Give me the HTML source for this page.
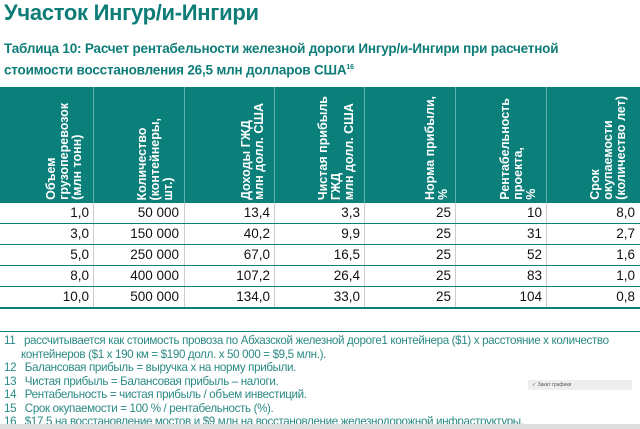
<!DOCTYPE html>
<html><head><meta charset="utf-8"><style>
body{margin:0;width:640px;height:429px;background:#fff;font-family:"Liberation Sans",sans-serif;position:relative;overflow:hidden;color:#111}
.t{position:absolute;left:4px;top:0px;font-size:22px;font-weight:bold;color:#0e7d78;letter-spacing:-0.3px}
.c{position:absolute;left:4px;top:39px;font-size:13.5px;font-weight:bold;color:#0e7d78;line-height:19px;letter-spacing:-0.2px}
.c sup{font-size:7px}
.hd{position:absolute;left:0;top:87px;width:640px;height:116px;background:#0b7f7a}
.col{position:absolute;top:0;height:116px;border-left:1px solid #5fb0ac}
.h{position:absolute;bottom:3px;writing-mode:vertical-rl;transform:rotate(180deg);color:#fff;font-weight:bold;font-size:12.5px;line-height:13px;white-space:nowrap}
.row{position:absolute;left:0;width:640px;height:21px;border-bottom:1px solid #0b7f7a;font-size:13.5px}
.row span{position:absolute;top:3px;text-align:right}
.v{position:absolute;top:203px;height:105px;border-left:1px solid #ccc}
.fn{position:absolute;left:4px;top:334px;width:640px;font-size:11.6px;color:#2a8a84;line-height:13.5px;letter-spacing:-0.35px}
.fn div{padding-left:17px;text-indent:-17px}
</style></head><body>
<div class="t">Участок Ингур/и-Ингири</div>
<div class="c">Таблица 10: Расчет рентабельности железной дороги Ингур/и-Ингири при расчетной<br>стоимости восстановления 26,5 млн долларов США<sup>16</sup></div>
<div class="hd">
<div class="col" style="left:93px"></div><div class="col" style="left:184px"></div><div class="col" style="left:274px"></div><div class="col" style="left:364px"></div><div class="col" style="left:455px"></div><div class="col" style="left:546px"></div>
<div class="h" style="left:45px">Объем<br>грузоперевозок<br>(млн тонн)</div>
<div class="h" style="left:136px">Количество<br>(контейнеры,<br>шт.)</div>
<div class="h" style="left:240px">Доходы ГЖД<br>млн долл. США</div>
<div class="h" style="left:317px">Чистая прибыль<br>ГЖД<br>млн долл. США</div>
<div class="h" style="left:424px">Норма прибыли,<br>%</div>
<div class="h" style="left:499px">Рентабельность<br>проекта,<br>%</div>
<div class="h" style="left:589px">Срок<br>окупаемости<br>(количество лет)</div>
</div>
<div class="v" style="left:93px"></div><div class="v" style="left:184px"></div><div class="v" style="left:274px"></div><div class="v" style="left:364px"></div><div class="v" style="left:455px"></div><div class="v" style="left:546px"></div>
<div class="row" style="top:202px"><span style="right:551px">1,0</span><span style="right:461px">50 000</span><span style="right:370px">13,4</span><span style="right:280px">3,3</span><span style="right:189px">25</span><span style="right:98px">10</span><span style="right:5px">8,0</span></div>
<div class="row" style="top:223px"><span style="right:551px">3,0</span><span style="right:461px">150 000</span><span style="right:370px">40,2</span><span style="right:280px">9,9</span><span style="right:189px">25</span><span style="right:98px">31</span><span style="right:5px">2,7</span></div>
<div class="row" style="top:244px"><span style="right:551px">5,0</span><span style="right:461px">250 000</span><span style="right:370px">67,0</span><span style="right:280px">16,5</span><span style="right:189px">25</span><span style="right:98px">52</span><span style="right:5px">1,6</span></div>
<div class="row" style="top:265px"><span style="right:551px">8,0</span><span style="right:461px">400 000</span><span style="right:370px">107,2</span><span style="right:280px">26,4</span><span style="right:189px">25</span><span style="right:98px">83</span><span style="right:5px">1,0</span></div>
<div class="row" style="top:286px;border-bottom:2px solid #0b7f7a"><span style="right:551px">10,0</span><span style="right:461px">500 000</span><span style="right:370px">134,0</span><span style="right:280px">33,0</span><span style="right:189px">25</span><span style="right:98px">104</span><span style="right:5px">0,8</span></div>
<div style="position:absolute;left:0;top:331px;width:640px;border-top:1px solid #0b7f7a"></div>
<div class="fn">
<div>11&nbsp;&nbsp;&nbsp;рассчитывается как стоимость провоза по Абхазской железной дороге1 контейнера ($1) х расстояние х количество контейнеров ($1 х 190 км = $190 долл. х 50 000 = $9,5 млн.).</div>
<div>12&nbsp;&nbsp;&nbsp;Балансовая прибыль = выручка х на норму прибыли.</div>
<div>13&nbsp;&nbsp;&nbsp;Чистая прибыль = Балансовая прибыль – налоги.</div>
<div>14&nbsp;&nbsp;&nbsp;Рентабельность = чистая прибыль / объем инвестиций.</div>
<div>15&nbsp;&nbsp;&nbsp;Срок окупаемости = 100 % / рентабельность (%).</div>
<div>16&nbsp;&nbsp;&nbsp;$17,5 на восстановление мостов и $9 млн на восстановление железнодорожной инфраструктуры.</div>
</div>
<div style="position:absolute;left:528px;top:380px;width:100px;height:10px;background:#eee;font-size:5px;color:#555;line-height:10px;padding-left:4px">✓ Закат графики</div>
<div style="position:absolute;left:0;top:424px;width:640px;height:5px;background:#ddd"></div>
</body></html>
